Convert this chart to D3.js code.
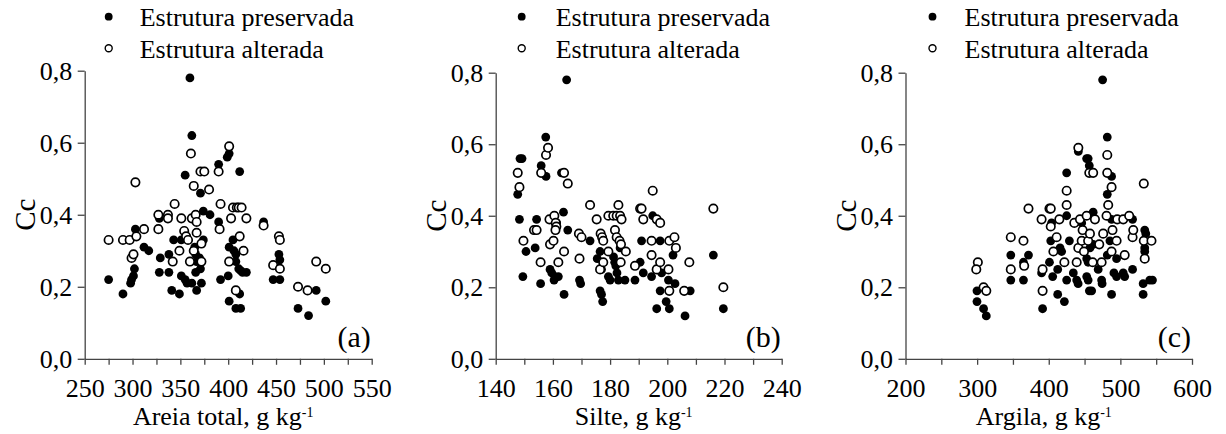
<!DOCTYPE html>
<html>
<head>
<meta charset="utf-8">
<script src="https://cdn.jsdelivr.net/npm/d3@7"></script>
<style>
  body { margin: 0; background: #fff; }
  svg { display: block; }
  svg text { font-family: "Liberation Serif", "Times New Roman", serif; }
</style>
</head>
<body>
<svg id="chart" width="1226" height="434"></svg>
<script>
// Cc (compression index) against soil texture fractions, two structure states.
const seriesNames = ["Estrutura preservada", "Estrutura alterada"];
const yTicks = [0, 0.2, 0.4, 0.6, 0.8];

// (a) total sand, g/kg
const areiaPreservada = [
  [360,0.78],[362,0.62],[355,0.51],[390,0.54],[399,0.56],[401,0.57],[412,0.52],[371,0.46],
  [374,0.41],[381,0.40],[390,0.38],[364,0.39],[328,0.39],[437,0.38],[303,0.36],[312,0.31],
  [317,0.30],[329,0.28],[328,0.24],[338,0.24],[338,0.29],[343,0.33],[351,0.33],[351,0.23],
  [355,0.22],[357,0.21],[362,0.21],[341,0.19],[349,0.18],[290,0.18],[275,0.22],[298,0.21],
  [299,0.22],[301,0.23],[302,0.25],[366,0.24],[371,0.25],[367,0.27],[370,0.28],[367,0.19],
  [372,0.21],[374,0.33],[365,0.31],[366,0.29],[392,0.22],[400,0.23],[401,0.16],[405,0.33],
  [401,0.31],[406,0.30],[408,0.29],[408,0.27],[411,0.25],[413,0.245],[415,0.24],[412,0.18],
  [408,0.14],[413,0.14],[419,0.24],[447,0.22],[454,0.22],[453,0.29],[454,0.275],[473,0.14],
  [484,0.12],[492,0.19],[502,0.16]
];
const areiaAlterada = [
  [303,0.49],[275,0.33],[290,0.33],[297,0.33],[304,0.34],[312,0.36],[299,0.28],[301,0.29],
  [327,0.40],[327,0.36],[337,0.40],[337,0.39],[344,0.43],[342,0.27],[349,0.30],[351,0.39],
  [354,0.355],[356,0.34],[358,0.33],[361,0.57],[364,0.48],[371,0.52],[375,0.52],[362,0.39],
  [366,0.40],[367,0.38],[367,0.35],[372,0.32],[360,0.27],[364,0.30],[372,0.27],[380,0.47],
  [390,0.52],[392,0.43],[391,0.36],[401,0.59],[403,0.39],[401,0.27],[405,0.42],[409,0.42],
  [411,0.42],[414,0.42],[419,0.39],[412,0.34],[416,0.30],[408,0.19],[437,0.37],[453,0.34],
  [454,0.33],[447,0.26],[454,0.25],[473,0.20],[483,0.19],[492,0.27],[502,0.25]
];

// (b) silt, g/kg
const siltePreservada = [
  [164.8,0.78],[157.5,0.62],[148.5,0.56],[149.2,0.56],[155.9,0.54],[157.6,0.51],[163,0.52],
  [147.7,0.46],[148.3,0.39],[154.3,0.39],[163.7,0.41],[161.3,0.38],[165.2,0.36],[153.8,0.31],
  [150.6,0.30],[149.5,0.23],[155.7,0.21],[159,0.25],[159.6,0.24],[160.7,0.23],[161.9,0.23],
  [160.4,0.22],[163.9,0.18],[169.3,0.22],[169.7,0.21],[173,0.33],[175.5,0.28],[176.5,0.30],
  [177,0.25],[176.5,0.19],[177,0.18],[177.4,0.16],[179.4,0.23],[180,0.22],[181.2,0.285],
  [181.6,0.27],[182,0.26],[182.4,0.24],[182.9,0.22],[183.5,0.31],[185.2,0.22],[188.7,0.22],
  [190.5,0.27],[191,0.33],[191.6,0.24],[194.9,0.40],[194.5,0.23],[196.3,0.14],[197.5,0.33],
  [197.5,0.19],[198,0.24],[199.6,0.16],[200.4,0.22],[200.7,0.14],[202,0.29],[202.7,0.21],
  [206.2,0.12],[208,0.19],[216.1,0.29],[219.6,0.14]
];
const silteAlterada = [
  [147.7,0.52],[148.3,0.48],[149.7,0.33],[153.4,0.36],[154.3,0.36],[155.7,0.27],[155.9,0.52],
  [157.6,0.57],[158.3,0.59],[158.8,0.39],[159,0.32],[160.2,0.33],[160.5,0.40],[161,0.38],
  [161.2,0.37],[160.9,0.36],[161.9,0.27],[163.9,0.52],[165.2,0.49],[163.9,0.30],[169.1,0.35],
  [170,0.34],[169.3,0.28],[173,0.43],[175.3,0.39],[176.7,0.35],[177.2,0.34],[177.6,0.33],
  [176.5,0.25],[177.6,0.27],[179.4,0.40],[179.4,0.30],[181.1,0.40],[182.3,0.40],[181.7,0.36],
  [182.3,0.34],[182.9,0.43],[183.5,0.40],[184,0.39],[183.3,0.33],[183.8,0.32],[183.7,0.27],
  [185.5,0.30],[188.7,0.26],[190.5,0.42],[191,0.42],[191.6,0.39],[194.9,0.47],[194.5,0.33],
  [194.5,0.29],[196.3,0.39],[197.5,0.38],[196.3,0.25],[197.5,0.27],[200.4,0.25],[200.7,0.33],
  [200.7,0.19],[202.5,0.34],[203,0.31],[205.9,0.19],[207.7,0.27],[216.1,0.42],[219.6,0.20]
];

// (c) clay, g/kg
const argilaPreservada = [
  [475.2,0.78],[481.7,0.62],[425,0.52],[452.9,0.56],[455,0.56],[456.6,0.54],[441.3,0.58],
  [487.7,0.51],[481.7,0.46],[425,0.40],[462,0.41],[446,0.38],[404,0.38],[487.7,0.39],
  [517,0.39],[534,0.36],[535.5,0.35],[347,0.29],[364.7,0.27],[371.7,0.29],[364.7,0.22],
  [347,0.22],[299.8,0.19],[309,0.14],[312.8,0.12],[299.8,0.16],[390,0.24],[391.4,0.14],
  [401,0.27],[402.8,0.33],[405.5,0.23],[412.5,0.25],[412.5,0.18],[415.8,0.31],[418,0.30],
  [421.8,0.16],[425,0.22],[428.8,0.33],[434.3,0.24],[439,0.22],[441,0.21],[453,0.28],
  [455,0.27],[453,0.23],[455,0.22],[456.7,0.19],[459.9,0.19],[457.5,0.31],[462,0.32],
  [469,0.25],[473.8,0.22],[474.5,0.21],[481.7,0.29],[485.4,0.33],[487.7,0.18],[491,0.24],
  [494.7,0.23],[494.7,0.28],[504,0.24],[506,0.23],[517,0.25],[531.8,0.21],[531.8,0.18],
  [534,0.30],[534,0.31],[541,0.22],[544.8,0.22]
];
const argilaAlterada = [
  [301,0.27],[298.8,0.25],[309,0.20],[312.8,0.19],[347,0.34],[347,0.25],[364.7,0.33],
  [365.7,0.26],[371.7,0.42],[390,0.39],[391.4,0.25],[391.4,0.19],[401,0.42],[402.8,0.42],
  [402.8,0.37],[406.5,0.30],[411,0.34],[414.8,0.39],[421.8,0.27],[425,0.43],[425,0.47],
  [435.7,0.38],[439,0.27],[441.3,0.59],[441.3,0.31],[443.6,0.39],[446,0.33],[447.3,0.36],
  [449.2,0.30],[452.9,0.40],[455,0.33],[456.6,0.52],[462,0.52],[457.5,0.35],[461.3,0.27],
  [464.5,0.39],[470.5,0.32],[473.8,0.27],[476,0.35],[480.7,0.40],[481.7,0.57],[481.7,0.52],
  [483,0.43],[487.7,0.48],[489,0.36],[487.7,0.30],[494.7,0.33],[495.6,0.39],[504,0.39],
  [506,0.29],[512.3,0.40],[517,0.34],[518,0.36],[532.7,0.49],[532.7,0.33],[534,0.28],
  [543.4,0.33]
];

const xTicksA = [250, 300, 350, 400, 450, 500, 550];
const xTicksB = [140, 160, 180, 200, 220, 240];
const xTicksC = [200, 300, 400, 500, 600];

const panels = [
  { tag: "(a)", title: "Areia total, g kg", ticks: xTicksA, minorStep: 25,
    left: 84.7, right: 371.7, top: 70.7, preserved: areiaPreservada, altered: areiaAlterada,
    legendDot: 24, legendText: 55 },
  { tag: "(b)", title: "Silte, g kg", ticks: xTicksB, minorStep: 10,
    left: 495.7, right: 781.7, top: 72.7, preserved: siltePreservada, altered: silteAlterada,
    legendDot: 26, legendText: 60 },
  { tag: "(c)", title: "Argila, g kg", ticks: xTicksC, minorStep: 50,
    left: 905.5, right: 1192, top: 72.7, preserved: argilaPreservada, altered: argilaAlterada,
    legendDot: 27, legendText: 59 }
];

const bottom = 358.8;
const axisColor = "#444";
const svg = d3.select("#chart");
const fmt = d => d3.format(".1f")(d).replace(".", ",");

panels.forEach(p => {
  const x = d3.scaleLinear().domain([p.ticks[0], p.ticks[p.ticks.length - 1]]).range([p.left, p.right]);
  const y = d3.scaleLinear().domain([0, 0.8]).range([bottom, p.top]);
  const g = svg.append("g");

  // x axis: a tick at every minor step, labels on the major values only
  const allTicks = d3.range(p.ticks[0], p.ticks[p.ticks.length - 1] + 1e-6, p.minorStep);
  const xAxis = d3.axisBottom(x).tickValues(allTicks).tickSize(6).tickSizeOuter(0).tickPadding(14)
    .tickFormat(d => p.ticks.includes(d) ? d : "");
  const gx = g.append("g").attr("transform", `translate(0,${bottom})`).call(xAxis);

  const yAxis = d3.axisLeft(y).tickValues(yTicks).tickSize(7).tickSizeOuter(0).tickPadding(5.5).tickFormat(fmt);
  const gy = g.append("g").attr("transform", `translate(${p.left},0)`).call(yAxis);

  [gx, gy].forEach(a => {
    a.attr("font-family", null).attr("font-size", 26);
    a.selectAll("path, line").attr("stroke", axisColor).attr("stroke-width", 1.3);
    a.selectAll("text").attr("fill", "#000");
  });

  // y axis title
  g.append("text")
    .attr("transform", `translate(${p.left - 60},${(bottom + p.top) / 2}) rotate(-90)`)
    .attr("text-anchor", "middle")
    .attr("dy", "0.35em")
    .attr("font-size", 29)
    .text("Cc");

  // x axis title with superscript
  const xt = g.append("text")
    .attr("x", (p.left + p.right) / 2 - 5)
    .attr("y", 425)
    .attr("text-anchor", "middle")
    .attr("font-size", 26);
  xt.append("tspan").text(p.title);
  xt.append("tspan").attr("font-size", 14).attr("dy", -8).text("-1");

  // panel tag
  g.append("text")
    .attr("x", p.right - 1)
    .attr("y", 347)
    .attr("text-anchor", "end")
    .attr("font-size", 30)
    .text(p.tag);

  // points: preserved (filled), then altered (open)
  g.append("g").selectAll("circle").data(p.preserved).join("circle")
    .attr("cx", d => x(d[0])).attr("cy", d => y(d[1])).attr("r", 4.4)
    .attr("fill", "#000");
  g.append("g").selectAll("circle").data(p.altered).join("circle")
    .attr("cx", d => x(d[0])).attr("cy", d => y(d[1])).attr("r", 4.2)
    .attr("fill", "#fff").attr("stroke", "#000").attr("stroke-width", 1.7);

  // legend
  const lg = g.append("g");
  const rows = [16.7, 48.3];
  lg.append("circle").attr("cx", p.left + p.legendDot).attr("cy", rows[0]).attr("r", 3.9).attr("fill", "#000");
  lg.append("circle").attr("cx", p.left + p.legendDot).attr("cy", rows[1]).attr("r", 3.5)
    .attr("fill", "#fff").attr("stroke", "#000").attr("stroke-width", 1.4);
  seriesNames.forEach((name, i) => {
    lg.append("text").attr("x", p.left + p.legendText).attr("y", rows[i] + 9.5)
      .attr("font-size", 26).text(name);
  });
});
</script>
</body>
</html>
